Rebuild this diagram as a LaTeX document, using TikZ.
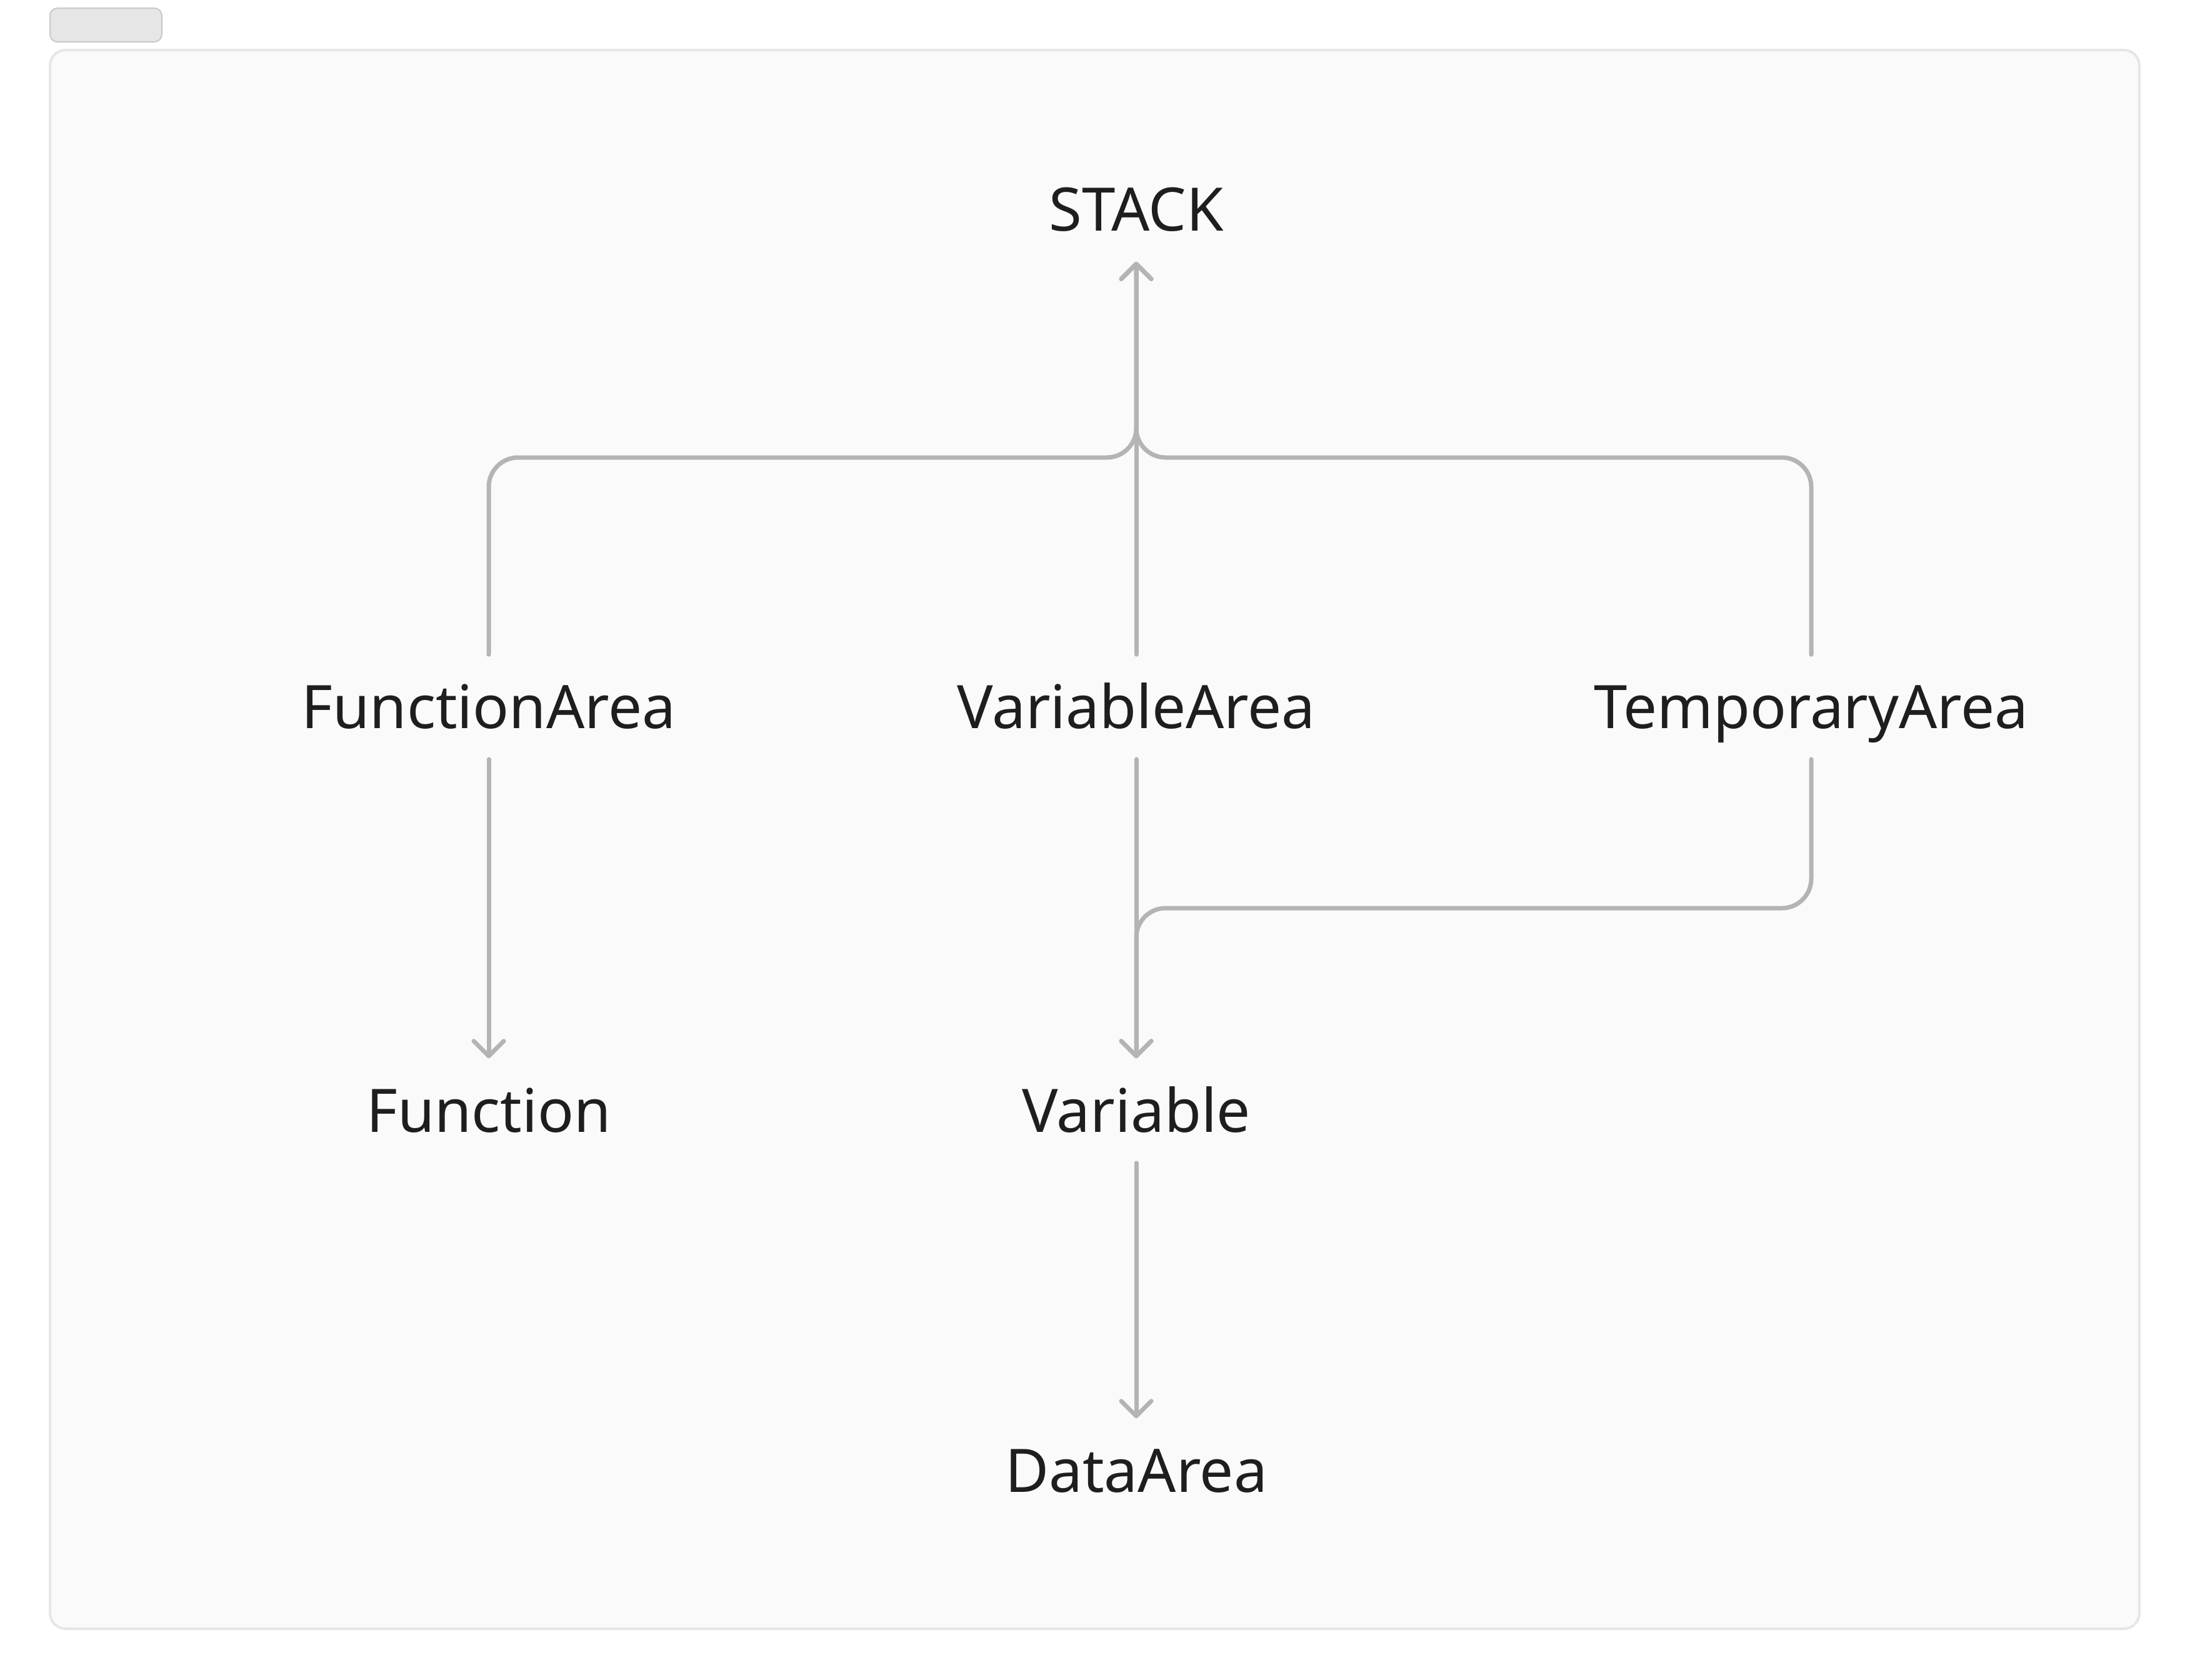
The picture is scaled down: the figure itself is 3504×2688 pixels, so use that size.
\documentclass[tikz,border=0pt]{standalone}
\usepackage{fontspec}
\setmainfont{Noto Sans}
\usetikzlibrary{arrows.meta}

\definecolor{textgray}{HTML}{1E1E1E}
\definecolor{linegray}{HTML}{B4B4B4}
\definecolor{framegray}{HTML}{E6E6E6}
\definecolor{framefill}{HTML}{FAFAFA}
\definecolor{tabline}{HTML}{C8C8C8}

\tikzset{
	area/.style={inner sep=0pt, minimum height=41.5pt, text height=17.1pt, text depth=0pt,
		text=textgray, font=\fontsize{24}{29}\selectfont},
	conn/.style={draw=linegray, line width=1.75pt, line cap=round, rounded corners=11.75pt,
		-{Straight Barb[length=6pt, width=12pt, line width=1.75pt, round]}},
}

\begin{document}
\begin{tikzpicture}[x=0.25pt, y=-0.25pt]
	% Frame
		\useasboundingbox (0,0) rectangle (3504,2688);
		\filldraw[draw=tabline, fill=framegray, line width=0.5pt, rounded corners=3pt] (80,13) rectangle (259,67);
		\filldraw[draw=framegray, fill=framefill, line width=1pt, rounded corners=6.25pt] (80,80) rectangle (3423,2606);

	% Nodes
		\node[area] (stack) at (1818,335) {STACK};

		\node[area] (funcarea) at (782,1131) {FunctionArea};
		\node[area] (vararea) at (1818,1131) {VariableArea};
		\node[area] (temparea) at (2898,1131) {TemporaryArea};

		\node[area] (func) at (782,1777) {Function};
		\node[area] (var) at (1818,1777) {Variable};

		\node[area] (data) at (1818,2353) {DataArea};

	% Junctions
		\coordinate (hub) at (1818,732);
		\coordinate (merge) at (1818,1453);

	% Up to STACK
		\draw[conn] (funcarea.north) -- (funcarea.north |- hub) -- (hub) -- (stack.south);
		\draw[conn] (vararea.north) -- (stack.south);
		\draw[conn] (temparea.north) -- (temparea.north |- hub) -- (hub) -- (stack.south);

	% Down from areas
		\draw[conn] (funcarea.south) -- (func.north);
		\draw[conn] (vararea.south) -- (var.north);
		\draw[conn] (temparea.south) -- (temparea.south |- merge) -- (merge) -- (var.north);
		\draw[conn] (var.south) -- (data.north);
\end{tikzpicture}
\end{document}
